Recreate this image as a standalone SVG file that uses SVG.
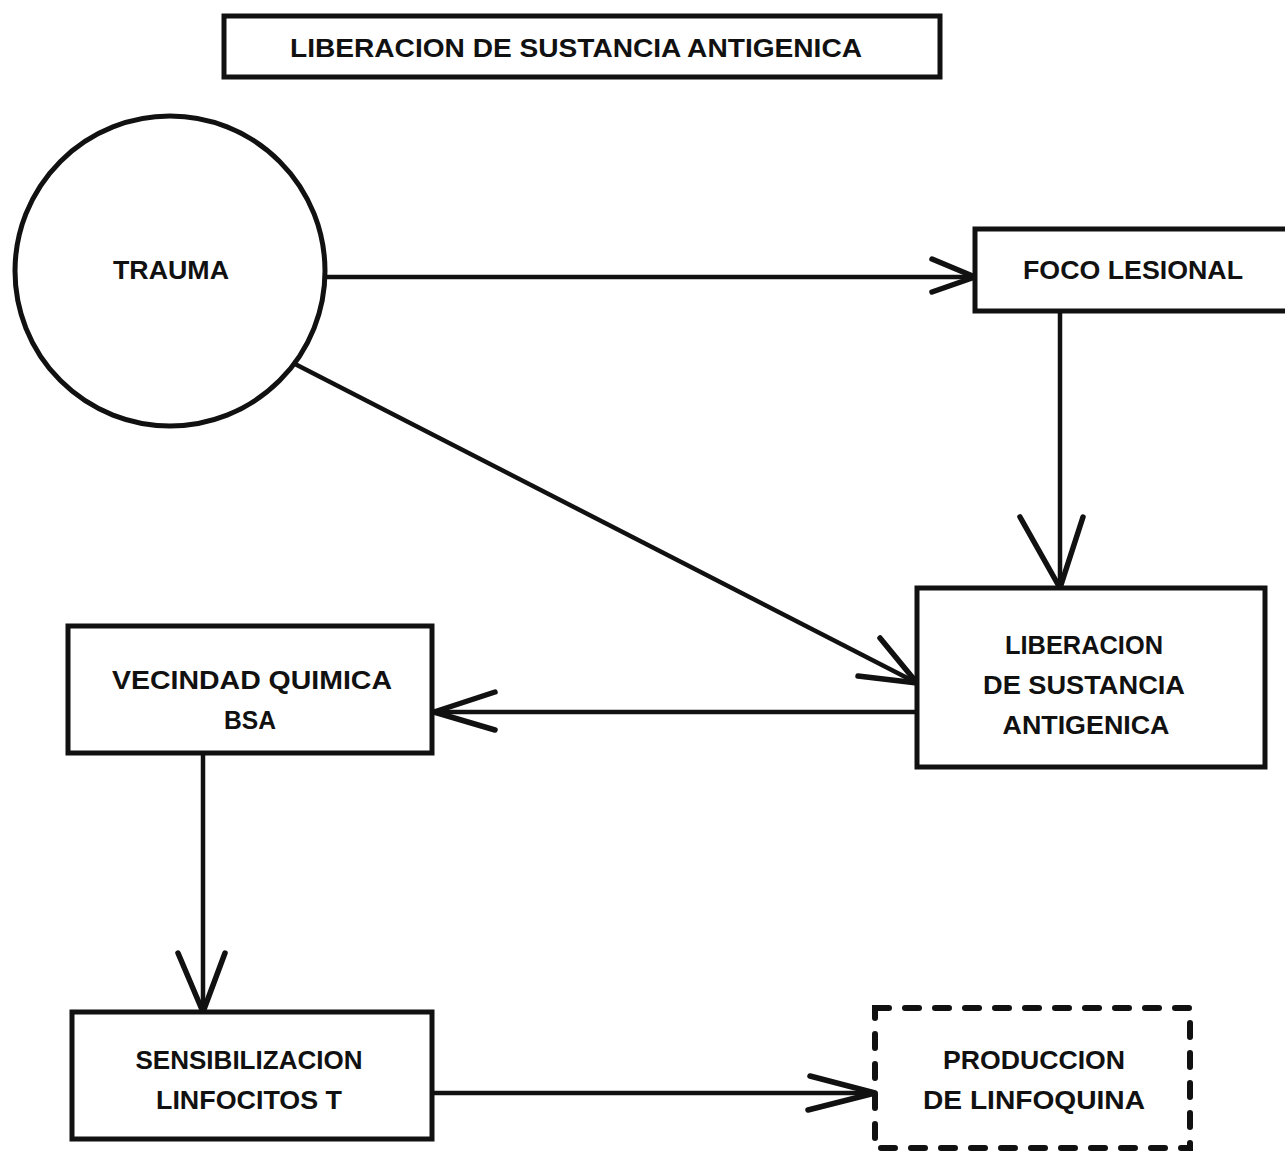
<svg xmlns="http://www.w3.org/2000/svg" width="1285" height="1153" viewBox="0 0 1285 1153">
<style>
.box{fill:#fff;stroke:#111;stroke-width:5}
.dash{fill:none;stroke:#111;stroke-width:6;stroke-dasharray:14 16;stroke-linecap:round}
.ln{fill:none;stroke:#111;stroke-width:4.5}
.ah{fill:none;stroke:#111;stroke-width:5.5;stroke-linecap:round;stroke-linejoin:round}
text{font-family:"Liberation Sans","DejaVu Sans",sans-serif;font-weight:bold;font-size:25px;fill:#111;text-anchor:middle}
</style>
<rect width="1285" height="1153" fill="#fff"/>
<g id="connectors">
<line class="ln" x1="326" y1="277" x2="975" y2="277"/>
<path class="ah" d="M932 259 L975 277 L932 292"/>
<line class="ln" x1="1060" y1="310" x2="1060" y2="588"/>
<path class="ah" d="M1020 517 L1060 588 L1083 517"/>
<line class="ln" x1="295" y1="364" x2="917" y2="683"/>
<path class="ah" d="M880 638 L917 683 L858 676"/>
<line class="ln" x1="917" y1="712" x2="432" y2="712"/>
<path class="ah" d="M495 692 L434 712 L495 730"/>
<line class="ln" x1="203" y1="753" x2="203" y2="1012"/>
<path class="ah" d="M178 953 L203 1012 L225 953"/>
<line class="ln" x1="432" y1="1093" x2="875" y2="1093"/>
<path class="ah" d="M810 1076 L875 1093 L808 1110"/>
</g>
<g id="title">
<rect class="box" x="224" y="16" width="716" height="61"/>
<text x="576" y="57" font-size="28" textLength="572" lengthAdjust="spacingAndGlyphs">LIBERACION DE SUSTANCIA ANTIGENICA</text>
</g>
<g id="trauma">
<circle class="box" cx="170" cy="271" r="155"/>
<text x="171" y="279" textLength="116" lengthAdjust="spacingAndGlyphs">TRAUMA</text>
</g>
<g id="foco">
<rect class="box" x="975" y="229" width="320" height="82"/>
<text x="1133" y="279" textLength="220" lengthAdjust="spacingAndGlyphs">FOCO  LESIONAL</text>
</g>
<g id="liberacion">
<rect class="box" x="917" y="588" width="348" height="179"/>
<text x="1084" y="654" textLength="158" lengthAdjust="spacingAndGlyphs">LIBERACION</text>
<text x="1084" y="694" textLength="202" lengthAdjust="spacingAndGlyphs">DE  SUSTANCIA</text>
<text x="1086" y="734" textLength="167" lengthAdjust="spacingAndGlyphs">ANTIGENICA</text>
</g>
<g id="vecindad">
<rect class="box" x="68" y="626" width="364" height="127"/>
<text x="252" y="689" textLength="280" lengthAdjust="spacingAndGlyphs">VECINDAD  QUIMICA</text>
<text x="250" y="729" textLength="52" lengthAdjust="spacingAndGlyphs">BSA</text>
</g>
<g id="sensibilizacion">
<rect class="box" x="72" y="1012" width="360" height="127"/>
<text x="249" y="1069" textLength="227" lengthAdjust="spacingAndGlyphs">SENSIBILIZACION</text>
<text x="249" y="1109" textLength="186" lengthAdjust="spacingAndGlyphs">LINFOCITOS  T</text>
</g>
<g id="produccion">
<rect class="dash" x="875" y="1008" width="315" height="140"/>
<text x="1034" y="1069" textLength="182" lengthAdjust="spacingAndGlyphs">PRODUCCION</text>
<text x="1034" y="1109" textLength="222" lengthAdjust="spacingAndGlyphs">DE LINFOQUINA</text>
</g>
</svg>
